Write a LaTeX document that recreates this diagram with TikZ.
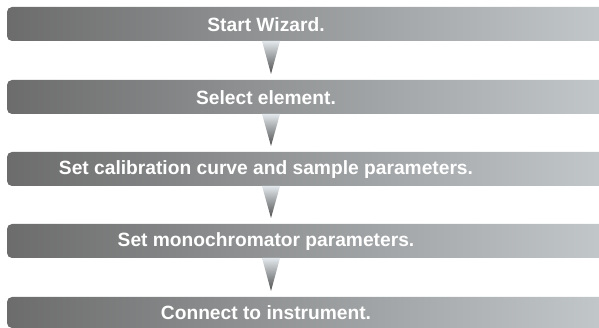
\documentclass[tikz,border=0pt]{standalone}
\usepackage{fontspec}
\usepackage{xcolor}
\usepackage{tikz}
\usetikzlibrary{calc, positioning}
\newfontfamily\barfont{Liberation Sans}
\definecolor{barleft}{HTML}{6C6C6C}
\definecolor{barright}{HTML}{C2C7CA}
\definecolor{tritop}{HTML}{E2E8EC}
\definecolor{tribottom}{HTML}{4E4E4E}

\newcommand{\flowtri}[2]{%
  \path[tri] ($(#1.south west)+(255,0)$) -- ($(#1.south west)+(273,0)$)
    -- ($(#2.north west)+(264,-6)$) -- cycle;}

\begin{document}
\begin{tikzpicture}[x=1pt, y=-1pt,
  stepbar/.style={rectangle, rounded corners=5pt, minimum width=597pt,
                  minimum height=34pt, anchor=north west, inner sep=0pt,
                  outer sep=0pt, left color=barleft, right color=barright},
  steptext/.style={text=white, font=\barfont\bfseries\fontsize{19.2}{22}\selectfont,
                   inner sep=0pt},
  tri/.style={top color=tritop, bottom color=tribottom}
]
\useasboundingbox (0,0) rectangle (599,328);

% bars
\node[stepbar] (b1) at (7,7) {};
\node[stepbar] (b2) at (7,80) {};
\node[stepbar] (b3) at (7,152) {};
\node[stepbar] (b4) at (7,224) {};
\node[stepbar, minimum height=31pt] (b5) at (7,297) {};

% labels
\node[steptext] (t1) at (266,25) {Start Wizard.};
\node[steptext] (t2) at (266,98) {Select element.};
\node[steptext] (t3) at (266,170) {Set calibration curve and sample parameters.};
\node[steptext] (t4) at (266,242) {Set monochromator parameters.};
\node[steptext] (t5) at (266,313) {Connect to instrument.};

% arrows
\flowtri{b1}{b2}
\flowtri{b2}{b3}
\flowtri{b3}{b4}
\flowtri{b4}{b5}

\end{tikzpicture}
\end{document}
